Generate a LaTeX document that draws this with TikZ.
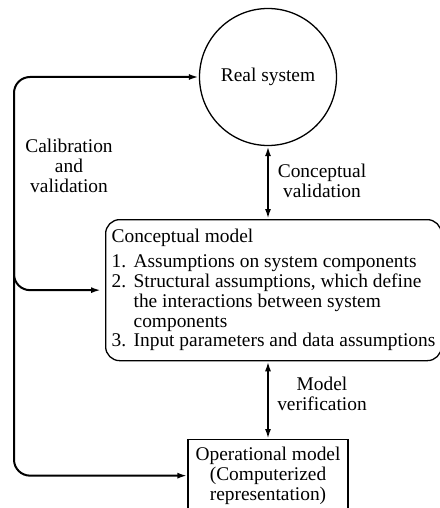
\documentclass[tikz,border=0pt]{standalone}
\usepackage{fontspec}
\setmainfont{Liberation Serif}
\usetikzlibrary{arrows.meta, positioning, calc}

\begin{document}
\begin{tikzpicture}[x=1pt, y=-1pt,
    sysnode/.style={circle, draw, line width=1.3pt, minimum size=137pt, inner sep=0pt},
    concbox/.style={rectangle, draw, line width=1.3pt, rounded corners=14pt, minimum height=141pt, anchor=north west, align=left, inner xsep=6pt, inner ysep=6pt},
    opbox/.style={rectangle, draw, line width=1.3pt, minimum width=160pt, minimum height=72pt, anchor=north, align=center, inner sep=3pt},
    arr/.style={-{Latex[length=10pt, width=6pt]}, line width=2pt},
    dblarr/.style={{Latex[length=10pt, width=6pt]}-{Latex[length=10pt, width=6pt]}, line width=2pt},
    lbl/.style={align=center},
    font=\fontsize{19.4}{19.8}\selectfont
]
\useasboundingbox (0,0) rectangle (439,508);

\node[sysnode] (real) at (268,77) {Real system};
\node[concbox] (concept) at (105,219) {Conceptual model\\[5pt]
  \makebox[22pt][l]{1.}Assumptions on system components\\
  \makebox[22pt][l]{2.}Structural assumptions, which define\\
  \hspace*{22pt}the interactions between system\\
  \hspace*{22pt}components\\
  \makebox[22pt][l]{3.}Input parameters and data assumptions};
\node[opbox] (opm) at (268,439) {Operational model\\(Computerized\\representation)};

% validation and verification links
\draw[dblarr] (real.south) -- (real.south |- concept.north);
\draw[dblarr] (real.south |- concept.south) -- (opm.north);
\node[lbl] (cvlbl) at (322,181) {Conceptual\\validation};
\node[lbl] (mvlbl) at (322,394) {Model\\verification};

% calibration loop on the left
\coordinate (spine) at (14,290);
\coordinate (branch) at (14,250);
\draw[arr, rounded corners=16pt] (spine) |- (real.west);
\draw[arr, rounded corners=16pt] (spine) |- (opm.west);
\draw[arr, rounded corners=16pt, shorten >=4pt] (branch) |- (concept.west);
\node[lbl] (callbl) at (69,166) {Calibration\\and\\validation};
\end{tikzpicture}
\end{document}
